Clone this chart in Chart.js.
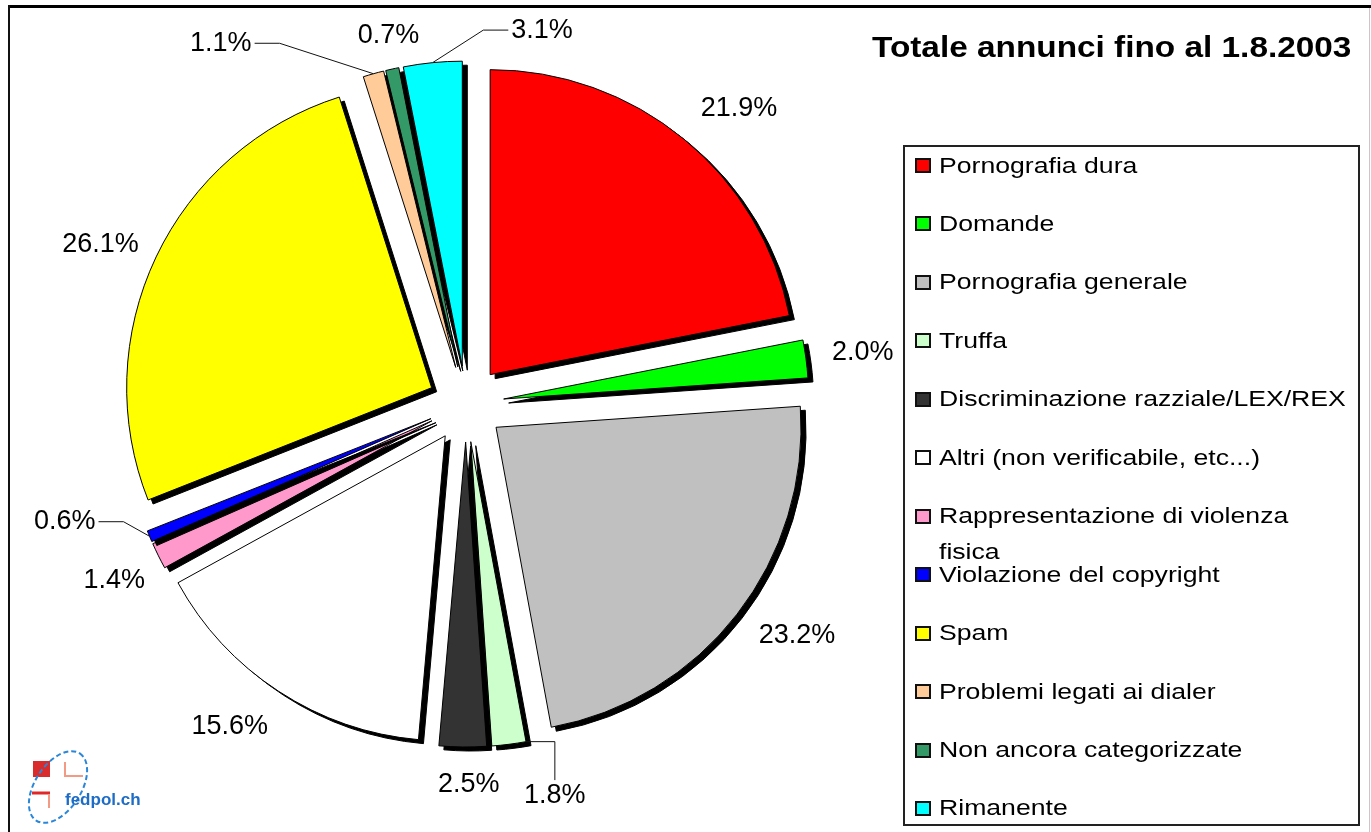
<!DOCTYPE html>
<html lang="it">
<head>
<meta charset="utf-8">
<title>Totale annunci fino al 1.8.2003</title>
<script src="https://cdn.jsdelivr.net/npm/chart.js@4.4.1/dist/chart.umd.min.js"></script>
<style>
    html, body { margin: 0; padding: 0; background: #fff; }
    body {
        position: relative;
        width: 1371px;
        height: 832px;
        overflow: hidden;
        font-family: "Liberation Sans", Arial, sans-serif;
        color: #000;
    }
    #chart { position: absolute; left: 0; top: 0; }
    .frame { position: absolute; }
    #frame-top { left: 8px; top: 5px; width: 1363px; height: 3px; background: #000; }
    #frame-left { left: 8px; top: 5px; width: 2px; height: 827px; background: #111; }
    #frame-right { left: 1369px; top: 8px; width: 1px; height: 824px; background: #c8c8c8; }
    #title {
        position: absolute;
        left: 872px;
        top: 27px;
        line-height: 40px;
        font-size: 29px;
        font-weight: bold;
        white-space: nowrap;
        transform: scaleX(1.15);
        transform-origin: 0 50%;
    }
    #legend-box {
        position: absolute;
        left: 903px;
        top: 145px;
        width: 457px;
        height: 681px;
        border: 2px solid #222;
        box-sizing: border-box;
    }
    .swatch {
        position: absolute;
        left: 915px;
        width: 16px;
        height: 15px;
        border: 2px solid #111;
        box-sizing: border-box;
    }
    .legend-text {
        position: absolute;
        left: 939px;
        font-size: 22px;
        line-height: 36px;
        white-space: pre;
        transform: scaleX(1.21);
        transform-origin: 0 0;
    }
    #logo { position: absolute; left: 15px; top: 745px; }
</style>
</head>
<body>
<canvas id="chart" width="1371" height="832"></canvas>
<div class="frame" id="frame-top"></div>
<div class="frame" id="frame-left"></div>
<div class="frame" id="frame-right"></div>
<div id="title">Totale annunci fino al 1.8.2003</div>
<div id="legend-box"></div>
<div id="legend"></div>
<svg id="logo" width="140" height="90" viewBox="15 745 140 90">
    <rect x="33" y="761" width="17" height="16" fill="#d92b2b"/>
    <polyline points="65,762 65,776 83,776" fill="none" stroke="#f39a84" stroke-width="2"/>
    <line x1="32" y1="793" x2="50" y2="793" stroke="#e02626" stroke-width="3"/>
    <line x1="49" y1="794" x2="49" y2="808" stroke="#f39a84" stroke-width="2"/>
    <ellipse cx="58" cy="787" rx="40" ry="23" transform="rotate(-57 58 787)" fill="none"
             stroke="#2a86d8" stroke-width="2" stroke-dasharray="5 3"/>
    <text x="65" y="805" font-family="Liberation Sans" font-weight="bold" font-size="17" fill="#1d6cc6">fedpol.ch</text>
</svg>

<script>
"use strict";

// #region Data
const categories = [
    "Pornografia dura",
    "Domande",
    "Pornografia generale",
    "Truffa",
    "Discriminazione razziale/LEX/REX",
    "Altri (non verificabile, etc...)",
    "Rappresentazione di violenza\nfisica",
    "Violazione del copyright",
    "Spam",
    "Problemi legati ai dialer",
    "Non ancora categorizzate",
    "Rimanente",
];
const shares = [21.9, 2.0, 23.2, 1.8, 2.5, 15.6, 1.4, 0.6, 26.1, 1.1, 0.7, 3.1];
const sliceColours = [
    "#ff0000", "#00ff00", "#c0c0c0", "#ccffcc", "#333333", "#ffffff",
    "#ff99cc", "#0000ff", "#ffff00", "#ffcc99", "#339966", "#00ffff",
];
// #endregion

// #region Layout of the labels (angle from top in degrees, distance in radii)
const labelPlace = [
    [42.7, 1.320], [82.6, 1.312], [125.0, 1.325], [167.2, 1.315],
    [179.6, 1.249], [216.2, 1.311], [243.4, 1.290], [253.65, 1.371],
    [293.5, 1.307], [325.8, 1.430], [348.1, 1.233], [11.5, 1.251],
];
/* leader lines: slice index, where on the arc to attach (0..1), elbow type */
const leaders = [
    { index: 9, attach: 0.5, elbow: "h" },
    { index: 11, attach: 0.5, elbow: "h" },
    { index: 7, attach: 0.5, elbow: "h" },
    { index: 3, attach: 0, elbow: "v" },
];
const EXPLODE = 38;
const SHADOW_DX = 5;
const SHADOW_DY = 4;
const LABEL_FONT = '27px "Liberation Sans", Arial, sans-serif';
// #endregion

// #region Legend (HTML)
const legendEl = document.getElementById("legend");
const LEGEND_FIRST = 165.5;
const LEGEND_STEP = 58.45;
categories.forEach((name, i) => {
    const cy = LEGEND_FIRST + i * LEGEND_STEP;
    const sw = document.createElement("div");
    sw.className = "swatch";
    sw.style.top = (cy - 7.5) + "px";
    sw.style.background = sliceColours[i];
    const txt = document.createElement("div");
    txt.className = "legend-text";
    txt.style.top = (cy - 18) + "px";
    txt.textContent = name;
    legendEl.appendChild(sw);
    legendEl.appendChild(txt);
});
// #endregion

// #region Pie decoration plugin: explode, drop shadow, labels
/* each slice first paints a black copy of itself, shifted down-right */
function withShadow(baseDraw) {
    return function (ctx, area) {
        const own = this.options;
        this.options = Object.assign({}, own, { backgroundColor: "#000", borderColor: "#000" });
        ctx.save();
        ctx.translate(SHADOW_DX, SHADOW_DY);
        baseDraw.call(this, ctx, area);
        ctx.restore();
        this.options = own;
        baseDraw.call(this, ctx, area);
    };
}

const pieDecor = {
    id: "pieDecor",
    beforeDatasetsDraw(chart) {
        const arcs = chart.getDatasetMeta(0).data;
        const { left, right, top, bottom } = chart.chartArea;
        const cx = (left + right) / 2;
        const cy = (top + bottom) / 2;
        arcs.forEach((arc) => {
            const mid = (arc.startAngle + arc.endAngle) / 2;
            arc.x = cx + Math.cos(mid) * EXPLODE;
            arc.y = cy + Math.sin(mid) * EXPLODE;
            if (!arc.$shadowed) {
                arc.draw = withShadow(Object.getPrototypeOf(arc).draw);
                arc.$shadowed = true;
            }
        });
    },
    afterDatasetsDraw(chart) {
        const ctx = chart.ctx;
        const arcs = chart.getDatasetMeta(0).data;
        const { left, right, top, bottom } = chart.chartArea;
        const cx = (left + right) / 2;
        const cy = (top + bottom) / 2;

        ctx.save();
        ctx.font = LABEL_FONT;
        ctx.fillStyle = "#000";
        ctx.textAlign = "center";
        ctx.textBaseline = "middle";

        const spots = arcs.map((arc, i) => {
            const [deg, f] = labelPlace[i];
            const t = (deg - 90) * Math.PI / 180;
            return {
                x: cx + Math.cos(t) * f * arc.outerRadius,
                y: cy + Math.sin(t) * f * arc.outerRadius,
                text: shares[i].toFixed(1) + "%",
            };
        });
        spots.forEach((s) => ctx.fillText(s.text, s.x, s.y));

        // leader lines
        ctx.strokeStyle = "#111";
        ctx.lineWidth = 1;
        leaders.forEach((ld) => {
            const arc = arcs[ld.index];
            const s = spots[ld.index];
            const a = arc.startAngle + ld.attach * (arc.endAngle - arc.startAngle);
            const ax = arc.x + Math.cos(a) * arc.outerRadius;
            const ay = arc.y + Math.sin(a) * arc.outerRadius;
            ctx.beginPath();
            if (ld.elbow === "h") {
                const w = ctx.measureText(s.text).width;
                const side = Math.sign(ax - s.x);
                const c = s.x + side * (w / 2 + 3);
                ctx.moveTo(c, s.y);
                ctx.lineTo(c + side * 25, s.y);
                ctx.lineTo(ax, ay);
            } else {
                ctx.moveTo(s.x, s.y - 15);
                ctx.lineTo(s.x, ay);
                ctx.lineTo(ax, ay);
            }
            ctx.stroke();
        });
        ctx.restore();
    },
};
// #endregion

// #region Chart
const pieChart = new Chart(document.getElementById("chart"), {
    type: "pie",
    data: {
        labels: categories,
        datasets: [
            {
                data: shares,
                backgroundColor: sliceColours,
                borderColor: "#000",
                borderWidth: 1,
                offset: 0,
                hoverOffset: 0,
            },
        ],
    },
    options: {
        responsive: false,
        animation: false,
        devicePixelRatio: 1,
        events: [],
        layout: {
            padding: { left: 160.5, right: 599.5, top: 98.5, bottom: 122.5 },
        },
        plugins: {
            legend: { display: false },
            title: { display: false },
            tooltip: { enabled: false },
        },
    },
    plugins: [pieDecor],
});
// #endregion
</script>
</body>
</html>
